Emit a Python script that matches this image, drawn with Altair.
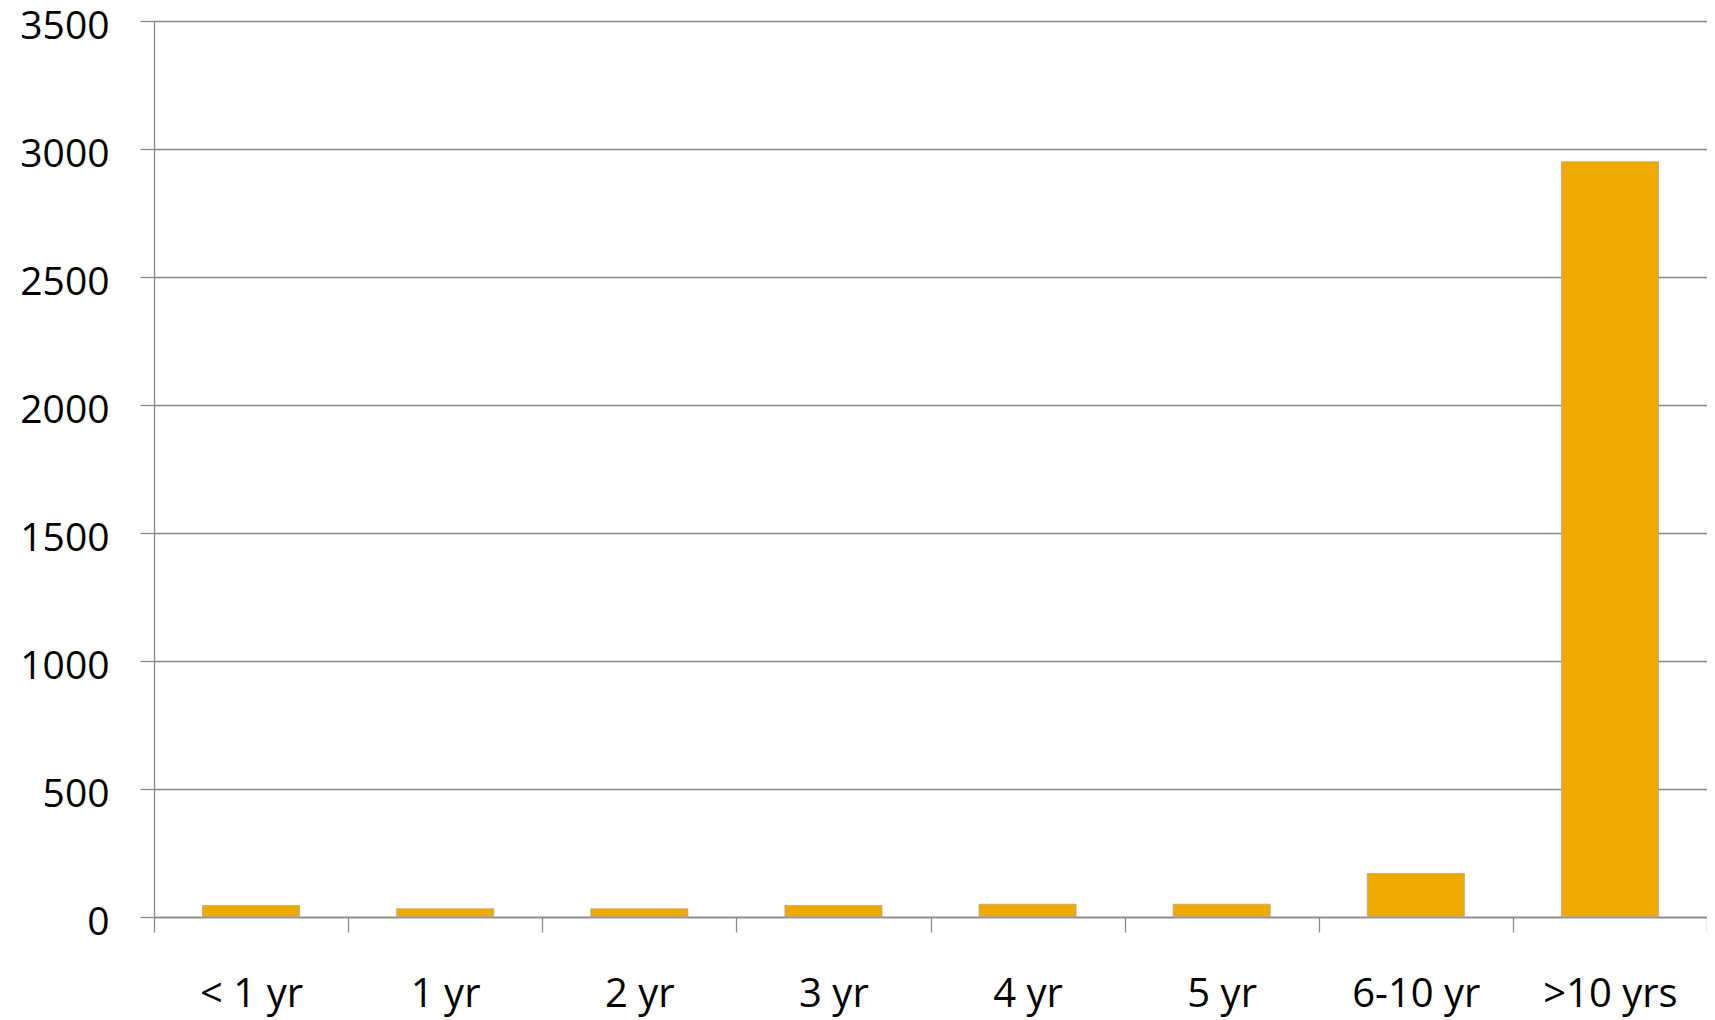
import altair as alt
import pandas as pd

categories = ["< 1 yr", "1 yr", "2 yr", "3 yr", "4 yr", "5 yr", "6-10 yr", ">10 yrs"]
values = [45, 32, 32, 45, 50, 50, 170, 2950]
y_ticks = [0, 500, 1000, 1500, 2000, 2500, 3000, 3500]

df = pd.DataFrame({"cat": categories, "val": values})

FONT = "Open Sans"
GRID = "#8a8a8a"

chart = alt.Chart(df).mark_bar(
    color="#EFAA00", stroke="#a8a8a8", strokeWidth=0.8,
    width=alt.RelativeBandSize(0.5)
).encode(
    x=alt.X("cat:N", sort=categories, title=None,
            scale=alt.Scale(paddingInner=0, paddingOuter=0),
            axis=alt.Axis(labelAngle=0, labelFont=FONT, labelFontSize=40,
                          labelColor="#000000", labelPadding=42,
                          tickBand="extent", tickSize=15, tickColor=GRID,
                          tickWidth=1.3, domainColor=GRID, domainWidth=1.3,
                          grid=False)),
    y=alt.Y("val:Q", title=None,
            scale=alt.Scale(domain=[0, 3500], nice=False),
            axis=alt.Axis(values=y_ticks, format="d", labelFont=FONT,
                          labelFontSize=39, labelOffset=5,
                          labelColor="#000000", labelPadding=31,
                          tickSize=14, tickColor=GRID, tickWidth=1.3,
                          domainColor=GRID, domainWidth=1.3,
                          grid=True, gridColor=GRID, gridWidth=1.3)),
).properties(
    width=1553, height=896,
    autosize=alt.AutoSizeParams(type="none"),
    padding={"left": 146, "top": 13, "right": 0, "bottom": 102},
).configure_view(stroke=None).configure(background="white")

chart.save("out.html", embed_options={"renderer": "svg", "actions": False})
